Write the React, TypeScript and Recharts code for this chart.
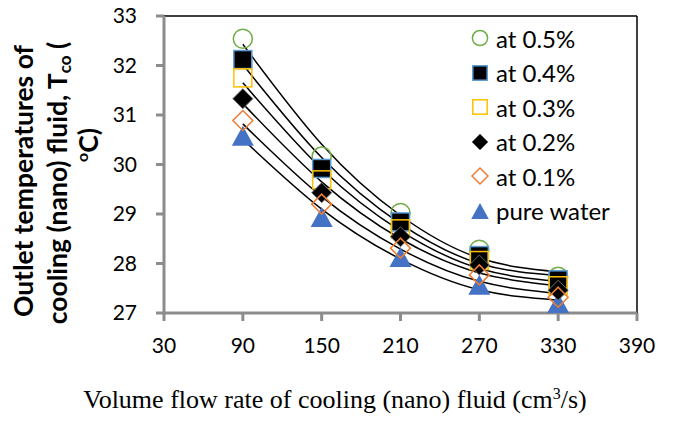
import React from 'react';
import {
  ComposedChart, Scatter, Line, XAxis, YAxis, ReferenceLine, Legend,
} from 'recharts';

// flow rates (cm3/s) and measured outlet temperatures (°C)
const flowRates = [90, 150, 210, 270, 330];
const at05 = [32.54, 30.16, 29.02, 28.28, 27.73];
const at04 = [32.12, 29.92, 28.84, 28.16, 27.67];
const at03 = [31.75, 29.69, 28.7, 28.06, 27.55];
const at02 = [31.33, 29.43, 28.54, 27.97, 27.46];
const at01 = [30.89, 29.2, 28.31, 27.77, 27.32];
const pureWater = [30.58, 28.94, 28.13, 27.57, 27.2];

// trendline values read at the same flow rates
const fit05 = [32.43, 30.41, 28.97, 28.11, 27.83];
const fit04 = [32.02, 30.14, 28.8, 28.0, 27.76];
const fit03 = [31.65, 29.91, 28.66, 27.9, 27.64];
const fit02 = [31.23, 29.65, 28.5, 27.81, 27.55];
const fit01 = [30.82, 29.35, 28.29, 27.64, 27.39];
const fitWater = [30.51, 29.1, 28.09, 27.47, 27.26];

const xTicks = [30, 90, 150, 210, 270, 330, 390];
const yTicks = [27, 28, 29, 30, 31, 32, 33];

type Kind = 'circle' | 'square' | 'openSquare' | 'diamond' | 'openDiamond' | 'triangle';

const series: { key: string; name: string; kind: Kind; values: number[]; fit: number[] }[] = [
  { key: 'p05', name: 'at 0.5%', kind: 'circle', values: at05, fit: fit05 },
  { key: 'p04', name: 'at 0.4%', kind: 'square', values: at04, fit: fit04 },
  { key: 'p03', name: 'at 0.3%', kind: 'openSquare', values: at03, fit: fit03 },
  { key: 'p02', name: 'at 0.2%', kind: 'diamond', values: at02, fit: fit02 },
  { key: 'p01', name: 'at 0.1%', kind: 'openDiamond', values: at01, fit: fit01 },
  { key: 'pw', name: 'pure water', kind: 'triangle', values: pureWater, fit: fitWater },
];

const rows = flowRates.map((flow, i) => {
  const row: Record<string, number> = { flow };
  series.forEach((s) => {
    row[s.key] = s.values[i];
    row[s.key + 'Fit'] = s.fit[i];
  });
  return row;
});

const AXIS_GRAY = '#8c8c8c';

function Marker({ kind, cx, cy, s = 1 }: { kind: Kind; cx: number; cy: number; s?: number }) {
  if (cx == null || cy == null) return null;
  const h = 9 * s;
  switch (kind) {
    case 'circle':
      return <circle cx={cx} cy={cy} r={9.5 * s} fill="none" stroke="#70AD47" strokeWidth={1.5} />;
    case 'square':
      return <rect x={cx - h} y={cy - h} width={2 * h} height={2 * h} fill="#000" stroke="#5B9BD5" strokeWidth={1.5} />;
    case 'openSquare':
      return <rect x={cx - h} y={cy - h} width={2 * h} height={2 * h} fill="none" stroke="#FFC000" strokeWidth={1.5} />;
    case 'diamond': {
      const d = 10 * s;
      return <polygon points={`${cx},${cy - d} ${cx + d},${cy} ${cx},${cy + d} ${cx - d},${cy}`} fill="#000" stroke="#6b6b6b" strokeWidth={1} />;
    }
    case 'openDiamond': {
      const d = 10 * s;
      return <polygon points={`${cx},${cy - d} ${cx + d},${cy} ${cx},${cy + d} ${cx - d},${cy}`} fill="none" stroke="#ED7D31" strokeWidth={1.5} />;
    }
    default: {
      const w = 11 * s;
      const t = 10 * s;
      return <polygon points={`${cx},${cy - t} ${cx + w},${cy + t} ${cx - w},${cy + t}`} fill="#4472C4" />;
    }
  }
}

const renderLegend = () => (
  <div style={{ fontFamily: 'Lato, sans-serif', fontSize: 24, color: '#000' }}>
    {series.map((s) => (
      <div key={s.key} style={{ display: 'flex', alignItems: 'center', height: 34.5 }}>
        <svg width={22} height={22} style={{ marginRight: 5 }}>
          <Marker kind={s.kind} cx={11} cy={11} s={0.8} />
        </svg>
        <span>{s.name}</span>
      </div>
    ))}
  </div>
);

// draw pure water first so the open markers sit on top
const drawOrder = [series[5], ...series.slice(0, 5)];

export default function App() {
  return (
    <div style={{ position: 'absolute', left: 0, top: 0, width: 673, height: 421, background: '#fff' }}>
      <ComposedChart
        width={673}
        height={421}
        data={rows}
        margin={{ top: 16, right: 36, left: 0, bottom: 58 }}
      >
        <XAxis
          dataKey="flow"
          type="number"
          domain={[30, 390]}
          ticks={xTicks}
          height={50}
          axisLine={{ stroke: AXIS_GRAY, strokeWidth: 3 }}
          tickLine={{ stroke: AXIS_GRAY, strokeWidth: 3 }}
          tickSize={8}
          tickMargin={17}
          tick={{ fill: '#000', fontSize: 21, fontFamily: 'Lato, sans-serif' }}
        />
        <YAxis
          type="number"
          domain={[27, 33]}
          ticks={yTicks}
          width={164}
          axisLine={{ stroke: AXIS_GRAY, strokeWidth: 3 }}
          tickLine={{ stroke: AXIS_GRAY, strokeWidth: 3 }}
          tickSize={8}
          tickMargin={19}
          tick={{ fill: '#000', fontSize: 21, fontFamily: 'Lato, sans-serif' }}
        />
        <ReferenceLine y={33} stroke="#000" strokeWidth={1.5} />
        <ReferenceLine x={390} stroke="#000" strokeWidth={1.5} />
        {drawOrder.map((s) => (
          <Scatter
            key={s.key}
            name={s.name}
            dataKey={s.key}
            isAnimationActive={false}
            shape={(p: any) => <Marker kind={s.kind} cx={p.cx} cy={p.cy} />}
          />
        ))}
        {series.map((s) => (
          <Line
            key={s.key + 'Fit'}
            dataKey={s.key + 'Fit'}
            type="natural"
            stroke="#000"
            strokeWidth={1.5}
            dot={false}
            activeDot={false}
            legendType="none"
            isAnimationActive={false}
          />
        ))}
        <Legend
          layout="vertical"
          align="center"
          verticalAlign="middle"
          wrapperStyle={{ left: 469, top: 21, width: 200 }}
          content={renderLegend}
        />
      </ComposedChart>

      {/* y-axis title, three rotated lines */}
      <div style={yLine(23, 181)}>Outlet temperatures of</div>
      <div style={yLine(57, 183)}>
        cooling (nano) fluid, T<span style={{ fontSize: 17, verticalAlign: '-0.25em', lineHeight: 0 }}>co</span> (
      </div>
      <div style={yLine(88, 145)}>
        <span style={{ fontSize: 16, verticalAlign: '0.6em', lineHeight: 0 }}>o</span>C)
      </div>

      <div
        style={{
          position: 'absolute', left: 35, top: 387, width: 600, textAlign: 'center',
          fontFamily: '"Liberation Serif", serif', fontSize: 26, lineHeight: '26px',
          whiteSpace: 'nowrap', color: '#000',
        }}
      >
        Volume flow rate of cooling (nano) fluid (cm
        <span style={{ fontSize: 16, verticalAlign: '0.55em', lineHeight: 0 }}>3</span>/s)
      </div>
    </div>
  );
}

function yLine(cx: number, cy: number): React.CSSProperties {
  return {
    position: 'absolute', left: cx - 200, top: cy - 15, width: 400, height: 30,
    lineHeight: '30px', textAlign: 'center', whiteSpace: 'nowrap',
    fontFamily: 'Lato, sans-serif', fontWeight: 700, fontSize: 26.5, color: '#000',
    transform: 'rotate(-90deg)',
  };
}
